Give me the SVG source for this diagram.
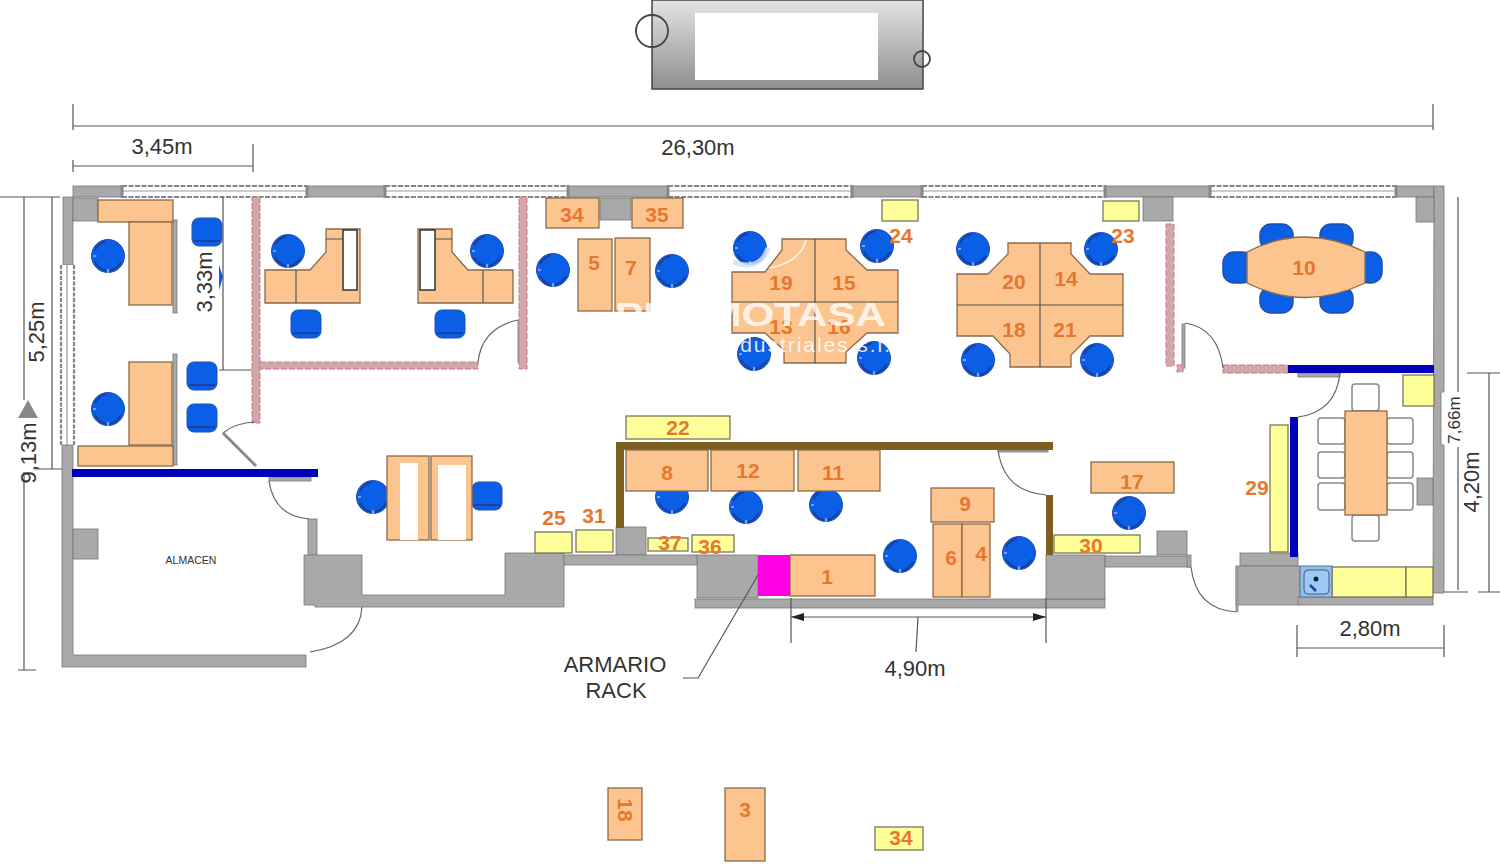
<svg xmlns="http://www.w3.org/2000/svg" width="1500" height="867" viewBox="0 0 1500 867">
<style>
.w{fill:#a9a9a9;stroke:#777;stroke-width:.8}
.d{fill:#fcc590;stroke:#8a6a4a;stroke-width:1.3}
.y{fill:#ffff99;stroke:#77775a;stroke-width:1.3}
.p{fill:#cfa8ac;stroke:#e0707a;stroke-width:1;stroke-dasharray:6 2}
.b{fill:#0000b8}
.br{fill:#7d5f22}
.l{fill:none;stroke:#555;stroke-width:1.2}
.a{fill:none;stroke:#666;stroke-width:1.2}
.n{font:bold 21px "Liberation Sans",Arial,sans-serif;fill:#e8772e;text-anchor:middle;dominant-baseline:central}
.t{font:22px "Liberation Sans",Arial,sans-serif;fill:#333;text-anchor:middle;dominant-baseline:central}
.ch{fill:#fff;stroke:#888;stroke-width:1.5}
.cc{fill:#0b5fe6;stroke:#1f4fb0;stroke-width:1.5}
</style>
<defs>
<linearGradient id="g" x1="0" y1="0" x2="0" y2="1"><stop offset="0" stop-color="#e4e4e4"/><stop offset="1" stop-color="#8e8e8e"/></linearGradient>
<g id="rc"><circle r="16.5" fill="#0b5fe6" stroke="#1f4fb0" stroke-width="1"/><path d="M-13 6Q-9 13-2 15M13 6Q9 13 2 15M-13-6Q-9-13-2-15" stroke="#1a3f9c" stroke-width="2" fill="none"/><path d="M0 13V17M-15 0H-12" stroke="#dfe9ff" stroke-width="1"/></g>
<g id="sc"><rect x="-15" y="-14" width="30" height="28" rx="7" fill="#0b5fe6" stroke="#1f4fb0"/><path d="M-13 9H13" stroke="#1a3f9c" stroke-width="2"/></g>
</defs>

<g id="upper-block">
<rect x="652" y="0" width="271" height="89" fill="url(#g)" stroke="#444" stroke-width="1.5"/>
<rect x="695" y="13" width="183" height="67" fill="#fff"/>
<circle cx="652" cy="31" r="16" fill="none" stroke="#444" stroke-width="1.8"/>
<circle cx="922" cy="59" r="8" fill="none" stroke="#444" stroke-width="1.8"/>
</g>

<g id="walls">
<rect class="w" x="73" y="186" width="1361" height="11"/>
<rect x="122" y="185" width="185" height="13" fill="#fff"/><rect x="385" y="185" width="183" height="13" fill="#fff"/><rect x="668" y="185" width="184" height="13" fill="#fff"/><rect x="922" y="185" width="183" height="13" fill="#fff"/><rect x="1210" y="185" width="186" height="13" fill="#fff"/>
<path d="M122 186H307M122 197H307M385 186H568M385 197H568M668 186H852M668 197H852M922 186H1105M922 197H1105M1210 186H1396M1210 197H1396" stroke="#858585" stroke-width="2.2" stroke-dasharray="5 1.5" fill="none"/>
<path d="M122 191H307M385 191H568M668 191H852M922 191H1105M1210 191H1396" stroke="#999" stroke-width="1.2" fill="none"/>
<path d="M122 185V198M307 185V198M385 185V198M568 185V198M668 185V198M852 185V198M922 185V198M1105 185V198M1210 185V198M1396 185V198" stroke="#888" stroke-width="3"/>
<rect class="w" x="63" y="197" width="10" height="68"/>
<rect x="60" y="265" width="15" height="180" fill="#fff"/>
<path d="M61 265V445M74 265V445" stroke="#858585" stroke-width="2.2" stroke-dasharray="4 1.5"/>
<path d="M67 265V445" stroke="#999" stroke-width="1.2"/>
<path class="w" d="M62 445H73V655H306V667H62Z"/>
<rect class="w" x="73" y="198" width="25" height="23"/>
<rect class="w" x="73" y="529" width="25" height="30"/>
<path class="w" d="M1434 186H1444V392H1441V445H1444V593H1433Z"/>
<rect class="w" x="1416" y="197" width="18" height="25"/>
<rect class="w" x="600" y="198" width="31" height="22"/>
<rect class="w" x="1143" y="197" width="30" height="24"/>
<rect class="w" x="616" y="527" width="30" height="28"/>
<rect class="w" x="1157" y="531" width="30" height="24"/>
<rect class="w" x="308" y="519" width="9" height="36"/>
<path class="w" d="M304 555H362V595H505V553H564V607H315V605H304Z"/>
<rect class="w" x="697" y="555" width="61" height="43"/>
<rect class="w" x="564" y="555" width="133" height="10"/>
<rect class="w" x="695" y="599" width="410" height="9"/>
<rect class="w" x="1046" y="555" width="59" height="44"/>
<rect class="w" x="1105" y="556" width="85" height="11"/>
<rect class="w" x="1187" y="555" width="4" height="12"/>
<rect class="w" x="1240" y="553" width="58" height="13"/>
<rect class="w" x="1236" y="566" width="64" height="39"/>
<rect class="w" x="1298" y="597" width="135" height="8"/>
<rect class="w" x="269" y="477" width="42" height="4"/>
<rect class="w" x="1298" y="373" width="42" height="4"/>
<rect class="w" x="173" y="220" width="4" height="93"/>
<rect class="w" x="173" y="354" width="4" height="111"/>
<rect class="w" x="518" y="320" width="4" height="42"/>
<rect class="w" x="1182" y="324" width="3" height="44"/>
<rect class="w" x="998" y="450" width="50" height="2"/>
</g>

<g id="partitions">
<rect class="p" x="252" y="197" width="8" height="226"/>
<rect class="p" x="260" y="362" width="218" height="7"/>
<rect class="p" x="519" y="197" width="8" height="172"/>
<rect class="p" x="1166" y="224" width="8" height="142"/>
<rect class="p" x="1177" y="365" width="6" height="7"/>
<rect class="p" x="1223" y="365" width="65" height="8"/>
<rect class="b" x="72" y="469" width="246" height="8"/>
<rect class="b" x="1288" y="365" width="146" height="8"/>
<rect class="b" x="1290" y="417" width="8" height="140"/>
<rect class="br" x="616" y="442" width="437" height="8"/>
<rect class="br" x="616" y="442" width="8" height="86"/>
<rect class="br" x="1046" y="495" width="7" height="60"/>
</g>

<g id="doors">
<path class="a" d="M223 433Q235 423 255 422"/>
<path d="M223 433L256 466" stroke="#888" stroke-width="3"/>
<path class="a" d="M478 362Q482 328 518 320"/>
<path class="a" d="M1185 323Q1218 328 1223 368"/>
<path class="a" d="M1298 417Q1336 412 1340 373"/>
<path class="a" d="M269 481Q274 516 309 519"/>
<path class="a" d="M362 607Q360 644 310 652"/>
<path class="a" d="M998 450Q1004 492 1046 495"/>
<path class="a" d="M1191 567Q1196 610 1237 612"/>
<path d="M1237 566V612" stroke="#999" stroke-width="3"/>
</g>

<g id="chairs">
<use href="#rc" x="108" y="256"/><use href="#rc" x="108" y="409"/><use href="#rc" x="288" y="251"/><use href="#rc" x="487" y="251"/>
<use href="#rc" x="553" y="270"/><use href="#rc" x="672" y="271"/><use href="#rc" x="750" y="248"/><use href="#rc" x="877" y="246"/>
<use href="#rc" x="973" y="249"/><use href="#rc" x="1101" y="249"/><use href="#rc" x="754" y="354"/><use href="#rc" x="874" y="358"/>
<use href="#rc" x="978" y="360"/><use href="#rc" x="1097" y="360"/><use href="#rc" x="373" y="497"/><use href="#rc" x="672" y="497"/>
<use href="#rc" x="746" y="507"/><use href="#rc" x="826" y="505"/><use href="#rc" x="900" y="556"/><use href="#rc" x="1019" y="553"/><use href="#rc" x="1129" y="513"/>
<use href="#sc" x="207" y="232"/><use href="#sc" x="202" y="376"/><use href="#sc" x="202" y="418"/>
<use href="#sc" x="306" y="324"/><use href="#sc" x="450" y="324"/><use href="#sc" x="487" y="496"/>
<path d="M219 265L223 277L219 290Z" fill="#0b5fe6"/>
<rect class="cc" x="1260" y="224" width="33" height="26" rx="11"/><rect class="cc" x="1320" y="224" width="33" height="26" rx="11"/>
<rect class="cc" x="1260" y="287" width="33" height="26" rx="11"/><rect class="cc" x="1320" y="287" width="33" height="26" rx="11"/>
<rect class="cc" x="1223" y="252" width="30" height="31" rx="11"/><rect class="cc" x="1358" y="252" width="24" height="31" rx="11"/>
<rect class="ch" x="1352" y="384" width="27" height="27" rx="3"/><rect class="ch" x="1352" y="515" width="27" height="26" rx="3"/>
<rect class="ch" x="1318" y="418" width="27" height="26" rx="3"/><rect class="ch" x="1318" y="452" width="27" height="26" rx="3"/><rect class="ch" x="1318" y="483" width="27" height="27" rx="3"/>
<rect class="ch" x="1387" y="418" width="26" height="26" rx="3"/><rect class="ch" x="1387" y="452" width="26" height="26" rx="3"/><rect class="ch" x="1387" y="483" width="26" height="27" rx="3"/>
<rect class="w" x="1417" y="478" width="16" height="27"/>
</g>

<g id="furniture">
<rect class="d" x="98" y="200" width="75" height="22"/><rect class="d" x="129" y="222" width="43" height="83"/>
<rect class="d" x="129" y="362" width="43" height="83"/><rect class="d" x="78" y="446" width="95" height="20"/>
<path class="d" d="M326 229H360V303H265V270H310L326 252Z"/><path class="l" d="M296 270V303M326 239H343"/><rect x="343" y="230" width="14" height="60" fill="#fff" stroke="#333" stroke-width="1.5"/>
<path class="d" d="M452 229H418V303H513V270H468L452 252Z"/><path class="l" d="M483 270V303M435 239H452"/><rect x="420" y="230" width="15" height="60" fill="#fff" stroke="#333" stroke-width="1.5"/>
<rect class="d" x="546" y="198" width="53" height="30"/><rect class="d" x="632" y="198" width="51" height="30"/>
<rect class="d" x="578" y="239" width="34" height="72"/><rect class="d" x="615" y="238" width="35" height="73"/>
<path class="d" d="M782 239H846V250L867 270H898V333H867L846 352V363H784V350L765 333H732V272H765L782 250Z"/><path class="l" d="M815 239V363M732 302H898"/>
<path class="d" d="M1008 243H1071V254L1090 274H1123V336H1090L1071 355V367H1010V354L993 336H957V274H988L1008 254Z"/><path class="l" d="M1040 243V367M957 305H1123"/>
<path class="d" d="M1247 252Q1305 222 1365 252V283Q1305 312 1247 283Z"/>
<rect class="d" x="387" y="456" width="42" height="84"/><rect class="d" x="431" y="456" width="41" height="84"/>
<rect x="400" y="463" width="18" height="77" fill="#fff"/><rect x="438" y="465" width="28" height="75" fill="#fff"/>
<rect class="d" x="626" y="450" width="82" height="41"/><rect class="d" x="711" y="450" width="83" height="41"/><rect class="d" x="798" y="450" width="82" height="41"/>
<rect class="d" x="790" y="555" width="85" height="41"/>
<rect x="758" y="555" width="32" height="41" fill="#ff00e6"/>
<rect class="d" x="931" y="488" width="63" height="34"/><rect class="d" x="933" y="524" width="29" height="73"/><rect class="d" x="962" y="524" width="28" height="73"/>
<rect class="d" x="1091" y="462" width="83" height="31"/>
<rect class="d" x="1345" y="411" width="42" height="104"/>
<rect class="y" x="626" y="416" width="104" height="23"/>
<rect class="y" x="535" y="532" width="37" height="21"/><rect class="y" x="576" y="530" width="37" height="22"/>
<rect class="y" x="648" y="538" width="40" height="13"/><rect class="y" x="692" y="535" width="42" height="17"/>
<rect class="y" x="1054" y="535" width="86" height="18"/>
<rect class="y" x="882" y="200" width="36" height="21"/><rect class="y" x="1103" y="201" width="36" height="20"/>
<rect class="y" x="1403" y="375" width="31" height="31"/>
<rect class="y" x="1270" y="425" width="18" height="127"/>
<rect class="y" x="1332" y="567" width="74" height="30"/><rect class="y" x="1406" y="567" width="27" height="30"/>
<rect x="1300" y="566" width="32" height="31" fill="#8dc0f0" stroke="#5a7a7a"/>
<rect x="1304" y="570" width="25" height="24" rx="4" fill="#9ccaf5" stroke="#557"/>
<circle cx="1316" cy="579" r="2.5" fill="#123"/>
<path d="M1310 585L1316 591" stroke="#234a80" stroke-width="2.5"/>
<rect class="d" x="608" y="788" width="34" height="52"/>
<rect class="d" x="725" y="788" width="40" height="73"/>
<rect class="y" x="875" y="827" width="48" height="23"/>
</g>

<g id="dimensions">
<path class="l" d="M73 126H1433M73 104V130M1433 104V130M73 166H253M73 160V172M253 144V172"/>
<path class="l" d="M0 197H60M52 197V469M36 469H62M24 197V400M24 472V670M18 670H36M223 197V370M219 370H252"/>
<path class="l" d="M1458 197V392M1458 447V590M1444 592H1468M1467 373H1500M1489 373V592M1478 592H1500"/>
<path class="l" d="M1297 648H1444M1297 625V657M1444 625V657"/>
<path class="l" d="M791 617H1046M791 598V643M1046 598V643M918 617L916 652"/>
<path d="M791 617L804 613V621ZM1046 617L1033 613V621Z" fill="#222"/>
<path class="l" d="M758 575L698 678H683"/>
<path d="M28 400L38 418H18Z" fill="#888"/>
</g>

<g id="labels">
<text class="n" x="572" y="214">34</text><text class="n" x="657" y="214">35</text><text class="n" x="594" y="262">5</text><text class="n" x="631" y="267">7</text>
<text class="n" x="781" y="282">19</text><text class="n" x="844" y="282">15</text><text class="n" x="781" y="326">13</text><text class="n" x="839" y="326">16</text>
<text class="n" x="901" y="235">24</text><text class="n" x="1123" y="235">23</text><text class="n" x="1014" y="281">20</text><text class="n" x="1066" y="278">14</text>
<text class="n" x="1014" y="329">18</text><text class="n" x="1065" y="329">21</text><text class="n" x="1304" y="267">10</text><text class="n" x="678" y="427">22</text>
<text class="n" x="667" y="472">8</text><text class="n" x="748" y="470">12</text><text class="n" x="833" y="472">11</text><text class="n" x="965" y="503">9</text>
<text class="n" x="951" y="557">6</text><text class="n" x="981" y="553">4</text><text class="n" x="827" y="576">1</text><text class="n" x="1132" y="481">17</text>
<text class="n" x="1257" y="487">29</text><text class="n" x="1091" y="545">30</text><text class="n" x="554" y="517">25</text><text class="n" x="594" y="515">31</text>
<text class="n" x="670" y="542">37</text><text class="n" x="710" y="546">36</text>
<text class="n" transform="translate(625 810) rotate(90)">18</text><text class="n" x="745" y="809">3</text><text class="n" x="901" y="837">34</text>
<text class="t" x="162" y="146">3,45m</text><text class="t" x="698" y="147">26,30m</text>
<text class="t" transform="translate(36 332) rotate(-90)">5,25m</text><text class="t" transform="translate(28 453) rotate(-90)">9,13m</text>
<text class="t" transform="translate(204 282) rotate(-90)">3,33m</text>
<text class="t" style="font-size:17px" transform="translate(1454 420) rotate(-90)">7,66m</text>
<text class="t" transform="translate(1471 482) rotate(-90)">4,20m</text>
<text class="t" x="1370" y="628">2,80m</text><text class="t" x="915" y="668">4,90m</text>
<text class="t" x="615" y="664">ARMARIO</text><text class="t" x="616" y="690">RACK</text>
<text class="t" style="font-size:10.5px" x="191" y="560">ALMACEN</text>
</g>

<g id="watermark">
<text x="615" y="314" dominant-baseline="central" font-family="Liberation Sans, Arial, sans-serif" font-weight="bold" font-size="34" fill="#fff" fill-opacity=".8" textLength="271" lengthAdjust="spacingAndGlyphs">PROMOTASA</text>
<text x="720" y="344" dominant-baseline="central" font-family="Liberation Sans, Arial, sans-serif" font-size="21" fill="#fff" fill-opacity=".85" textLength="170">industriales s.l.</text>
<path d="M733 262Q760 272 768 248" fill="none" stroke="#cfe0f8" stroke-width="5" opacity=".85"/>
<path d="M770 268Q800 262 806 240" fill="none" stroke="#fff" stroke-width="1.5" opacity=".8"/>
</g>
</svg>
